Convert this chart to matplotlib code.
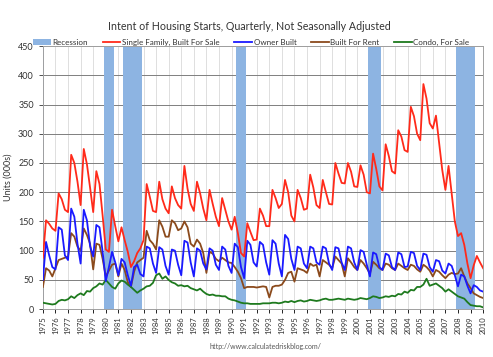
import matplotlib
matplotlib.use("Agg")
import matplotlib.pyplot as plt
from matplotlib.patches import Patch
from matplotlib.lines import Line2D
import numpy as np

years = list(range(1975, 2011))
year_labels = [str(y) for y in years]

# quarterly values 1975Q1 .. 2010Q1 (thousands of units)
single_family_for_sale = [
    88, 152, 146, 138,
    134, 198, 188, 170,
    166, 264, 250, 218,
    178, 274, 248, 208,
    166, 236, 214, 160,
    102, 98, 170, 142,
    116, 140, 118, 98,
    72, 82, 96, 104,
    118, 214, 192, 168,
    166, 218, 188, 172,
    164, 210, 190, 178,
    172, 245, 206, 180,
    168, 218, 198, 172,
    152, 204, 180, 158,
    142, 190, 170, 150,
    136, 158, 130, 96,
    90, 147, 132, 118,
    119, 172, 160, 142,
    142, 204, 190, 173,
    180, 221, 200, 160,
    150, 204, 190, 170,
    172, 230, 208, 178,
    173, 221, 200, 180,
    179, 250, 232, 216,
    215, 250, 235, 210,
    209, 246, 230, 200,
    198, 266, 240, 210,
    203, 282, 262, 236,
    232, 306, 295, 272,
    269, 346, 330, 300,
    289, 385, 360, 318,
    309, 331, 285, 238,
    204, 245, 198, 150,
    125, 130, 110, 78,
    53, 75, 91, 80,
    70,
]

owner_built = [
    50, 115, 92, 72,
    68, 140, 136, 92,
    84, 172, 158, 112,
    78, 170, 152, 108,
    90, 144, 140, 98,
    48, 72, 98, 80,
    58, 86, 80, 58,
    40, 72, 76, 60,
    56, 107, 104, 78,
    62, 106, 102, 74,
    59, 102, 100, 76,
    58, 117, 114, 80,
    56, 104, 100, 78,
    68, 104, 100, 76,
    67, 107, 102, 74,
    62, 112, 106, 72,
    53, 117, 110, 80,
    73, 115, 110, 80,
    59, 118, 112, 78,
    56, 127, 120, 86,
    67, 107, 104, 78,
    70, 107, 104, 80,
    76, 107, 104, 78,
    67, 106, 104, 80,
    67, 107, 104, 80,
    67, 101, 98, 76,
    56, 97, 94, 72,
    67, 95, 92, 72,
    67, 97, 94, 72,
    73, 98, 96, 74,
    67, 95, 93, 72,
    64, 84, 82, 66,
    61, 78, 74, 58,
    39, 59, 56, 40,
    27, 41, 38, 32,
    30,
]

built_for_rent = [
    38, 70, 66, 56,
    70, 84, 86, 88,
    90, 130, 124, 107,
    100, 138, 127, 112,
    68, 112, 110, 86,
    56, 66, 76, 78,
    56, 78, 67, 46,
    38, 64, 80, 84,
    88, 134, 118, 112,
    102, 152, 141, 124,
    124, 152, 147, 135,
    138, 150, 140, 112,
    107, 119, 112, 96,
    62, 98, 95, 86,
    82, 88, 84, 80,
    79, 72, 64, 53,
    36, 38, 38, 38,
    37, 38, 39, 38,
    20, 38, 40, 40,
    42, 50, 62, 64,
    47, 70, 68, 66,
    62, 78, 74, 76,
    56, 84, 80, 76,
    70, 90, 84, 78,
    56, 87, 80, 72,
    67, 84, 78, 70,
    61, 81, 76, 70,
    67, 78, 76, 70,
    67, 78, 74, 70,
    67, 76, 74, 68,
    64, 76, 72, 66,
    56, 67, 64, 58,
    53, 59, 62, 60,
    61, 70, 56, 44,
    36, 27, 24, 21,
    19,
]

condo_for_sale = [
    11, 10, 9, 8,
    9, 14, 16, 15,
    17, 22, 19, 24,
    27, 24, 31, 30,
    36, 39, 44, 42,
    50, 44, 38, 35,
    44, 49, 47, 42,
    38, 33, 28, 32,
    35, 39, 40, 45,
    58, 61, 52, 56,
    50, 46, 44, 40,
    41, 39, 40, 36,
    34, 32, 35, 30,
    26, 24, 25, 23,
    23, 22, 22, 18,
    16, 15, 13, 11,
    10, 10, 9, 9,
    9, 9, 10, 10,
    10, 11, 11, 10,
    11, 13, 12, 14,
    12, 14, 15, 13,
    14, 16, 15, 14,
    15, 17, 18, 16,
    16, 17, 18, 17,
    16, 18, 17, 16,
    17, 19, 18, 17,
    19, 22, 21, 19,
    20, 22, 21, 23,
    22, 26, 25, 30,
    28, 33, 32, 38,
    38, 42, 52, 40,
    42, 44, 40, 36,
    30, 34, 30, 26,
    22, 20, 18, 12,
    7, 6, 5, 5,
    3,
]

# recession quarters (index from 1975Q1)
recession_quarters = [0, 20, 21, 22, 26, 27, 28, 29, 30, 31, 62, 63, 64,
                      104, 105, 106, 107, 132, 133, 134, 135, 136, 137]

FONT = ["Lato", "DejaVu Sans"]
plt.rcParams["font.family"] = FONT

fig = plt.figure(figsize=(4.93, 3.57), dpi=100)
ax = fig.add_axes([0.087, 0.134, 0.893, 0.737])

n = len(single_family_for_sale)
x = np.arange(n)

rec_color = "#8db4e2"
ax.bar(recession_quarters, [450] * len(recession_quarters), width=1.0,
       color=rec_color, edgecolor="none", zorder=1)

ax.plot(x, single_family_for_sale, color="#ff2a1a", lw=1.3, zorder=5)
ax.plot(x, owner_built, color="#1a1aff", lw=1.3, zorder=4)
ax.plot(x, built_for_rent, color="#8b4a1c", lw=1.3, zorder=3)
ax.plot(x, condo_for_sale, color="#1e7a1e", lw=1.3, zorder=3)

ax.set_xlim(0, n - 1)
ax.set_ylim(0, 450)
ax.set_yticks(range(0, 451, 50))
ax.set_xticks(range(0, n, 4))
ax.set_xticklabels(year_labels, rotation=90, fontsize=5.5, color="#333333")
ax.tick_params(axis="y", labelsize=6.5, colors="#333333", length=3, width=0.6)
ax.tick_params(axis="x", length=3, width=0.6, pad=2)

ax.grid(axis="y", color="#7f7f7f", lw=0.7, zorder=0)
ax.grid(axis="x", color="#d9d9d9", lw=0.6, zorder=0)
ax.set_axisbelow(True)
for s in ax.spines.values():
    s.set_color("#a0a0a0")
    s.set_linewidth(0.7)

ax.set_ylabel("Units (000s)", fontsize=6.5, color="#333333", labelpad=4)

fig.text(0.505, 0.925, "Intent of Housing Starts, Quarterly, Not Seasonally Adjusted",
         ha="center", va="center", fontsize=7.7, color="#333333")

handles = [
    Patch(facecolor=rec_color, edgecolor="none"),
    Line2D([], [], color="#ff2a1a", lw=1.3),
    Line2D([], [], color="#1a1aff", lw=1.3),
    Line2D([], [], color="#8b4a1c", lw=1.3),
    Line2D([], [], color="#1e7a1e", lw=1.3),
]
labels = ["Recession", "Single Family, Built For Sale", "Owner Built",
          "Built For Rent", "Condo, For Sale"]
fig.legend(handles, labels, loc="center", bbox_to_anchor=(0.51, 0.882),
           ncol=5, frameon=False, fontsize=5.8, handlelength=2.2,
           handletextpad=0.2, columnspacing=1.8, labelcolor="#333333")

fig.text(0.538, 0.03, "http://www.calculatedriskblog.com/", ha="center",
         va="center", fontsize=5, color="#555555")

fig.savefig("out.png", dpi=100)
